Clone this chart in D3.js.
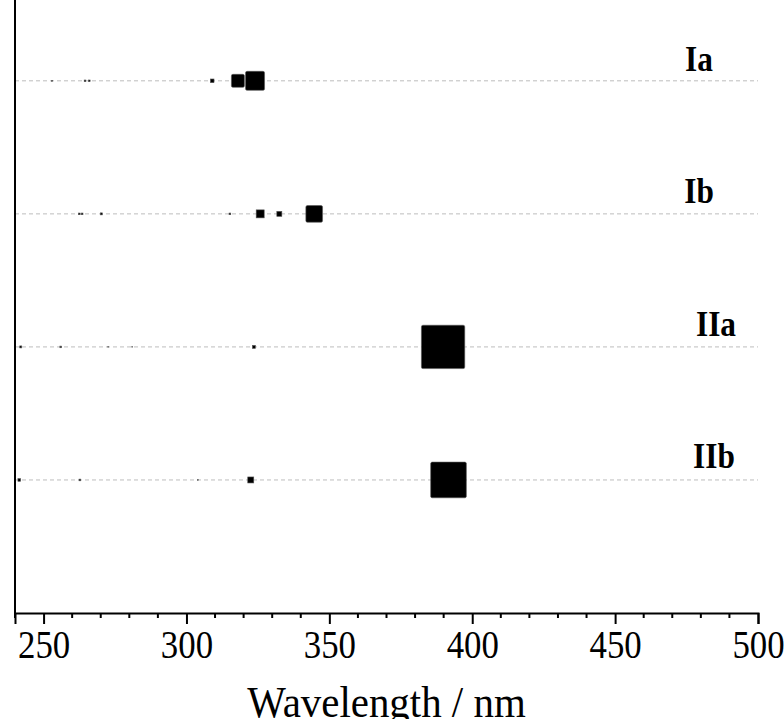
<!DOCTYPE html>
<html>
<head>
<meta charset="utf-8">
<script src="https://cdn.jsdelivr.net/npm/d3@7"></script>
<style>
  body { margin: 0; background: #fff; }
  svg text { font-family: "Times New Roman", "Liberation Serif", serif; fill: #000; }
  .grid { stroke: #bdbdbd; stroke-width: 1; stroke-dasharray: 4,3; }
  .sq { fill: #000; stroke: #555; stroke-width: 0.6; }
</style>
</head>
<body>
<svg id="chart" width="784" height="719"></svg>
<script>
// compounds, one row each (top to bottom)
const compounds = ["Ia", "Ib", "IIa", "IIb"];
const rowLevel = [4, 3, 2, 1];

// transitions: wavelength (nm) and relative strength per compound
const wlIa = [253, 264.5, 266, 309, 318, 324];
const fIa  = [0.03, 0.05, 0.05, 0.11, 0.39, 0.57];

const wlIb = [262.5, 263.5, 270.2, 315.2, 325.8, 332.5, 344.7];
const fIb  = [0.05, 0.05, 0.06, 0.05, 0.24, 0.15, 0.50];

const wlIIa = [242, 256, 272.6, 281, 323.6, 389.8];
const fIIa  = [0.06, 0.05, 0.02, 0.02, 0.09, 1.30];

const wlIIb = [241.5, 262.7, 304, 322.5, 391.7];
const fIIb  = [0.08, 0.05, 0.02, 0.18, 1.07];

const xTicks = [250, 300, 350, 400, 450, 500];

const wlData = [wlIa, wlIb, wlIIa, wlIIb];
const fData = [fIa, fIb, fIIa, fIIb];

const svg = d3.select("#chart");
const sx = 0.87; // reference text is horizontally condensed

const x = d3.scaleLinear().domain([240, 500]).range([15, 758]);
const y = d3.scaleLinear().domain([0, 4.6]).range([613, 1]);
const side = d3.scaleLinear().domain([0, 1.5]).range([0, 50]);

// dashed baselines per compound
svg.append("g").selectAll("line")
  .data(rowLevel)
  .enter()
  .append("line")
  .attr("class", "grid")
  .attr("x1", x(240)).attr("x2", x(500))
  .attr("y1", d => y(d)).attr("y2", d => y(d));

// squares
const pts = [];
compounds.forEach((c, i) => {
  wlData[i].forEach((w, j) => pts.push({row: rowLevel[i], wl: w, f: fData[i][j]}));
});

svg.append("g").selectAll("rect")
  .data(pts)
  .enter()
  .append("rect")
  .attr("class", "sq")
  .attr("x", d => x(d.wl) - side(d.f) / 2)
  .attr("y", d => y(d.row) - side(d.f) / 2)
  .attr("width", d => side(d.f))
  .attr("height", d => side(d.f))
  .attr("rx", d => side(d.f) > 10 ? 1.5 : 0);

// compound labels
const labelDx = [-59, -59, -42, -44];
const labelDy = [-10, -11, -11, -12];
svg.append("g").selectAll("text")
  .data(compounds)
  .enter()
  .append("text")
  .attr("transform", (d, i) => `translate(${x(500) + labelDx[i]},${y(rowLevel[i]) + labelDy[i]}) scale(${sx},1)`)
  .attr("text-anchor", "middle")
  .style("font-weight", "bold")
  .style("font-size", "36px")
  .text(d => d);

// x axis
const xAxis = d3.axisBottom(x).tickValues(xTicks).tickSize(11).tickPadding(6).tickFormat(d3.format("d"));
const gx = svg.append("g").attr("transform", `translate(0,${y(0)})`).call(xAxis);
gx.select(".domain").attr("stroke-width", 2);
gx.selectAll(".tick line").attr("stroke-width", 2);
gx.selectAll("text")
  .style("font-size", "40px")
  .style("font-family", "'Times New Roman', 'Liberation Serif', serif")
  .attr("transform", `scale(${sx},1)`)
  .attr("x", 0);

const minor = d3.range(240, 501, 10).filter(v => xTicks.indexOf(v) < 0);
svg.append("g").selectAll("line")
  .data(minor)
  .enter()
  .append("line")
  .attr("x1", d => x(d)).attr("x2", d => x(d))
  .attr("y1", y(0)).attr("y2", y(0) + 5)
  .attr("stroke", "#000").attr("stroke-width", 2);

// y axis line only
svg.append("line")
  .attr("x1", x(240)).attr("x2", x(240))
  .attr("y1", 0).attr("y2", y(0))
  .attr("stroke", "#000").attr("stroke-width", 2);

svg.append("text")
  .attr("transform", `translate(${(x(240) + x(500)) / 2},717) scale(0.93,1)`)
  .attr("text-anchor", "middle")
  .style("font-size", "44px")
  .text("Wavelength / nm");
</script>
</body>
</html>
